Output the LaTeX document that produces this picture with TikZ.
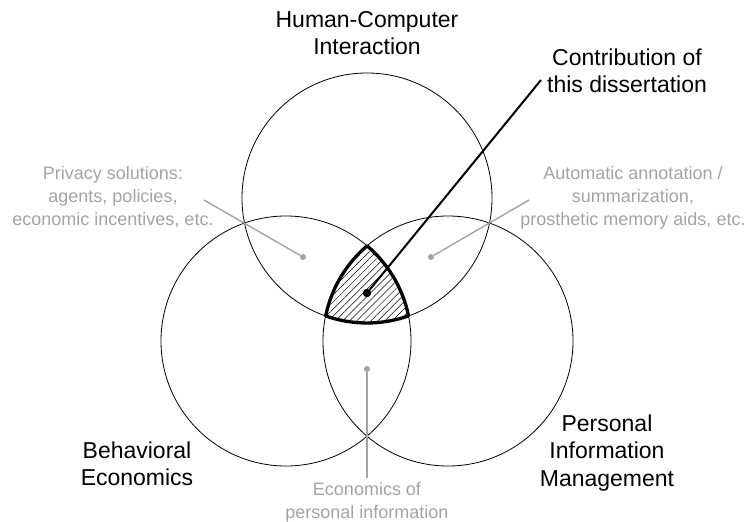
\documentclass[tikz,border=0pt]{standalone}
\usepackage{fontspec}
\setmainfont{Liberation Sans}
\usetikzlibrary{patterns.meta}
\definecolor{notegray}{gray}{0.64}

\begin{document}
\begin{tikzpicture}[x=1pt, y=-1pt,
  area/.style = {draw, circle, line width=0.8pt, minimum size=250pt, inner sep=0pt},
  field/.style = {align=center, font=\fontsize{23}{27.5}\selectfont},
  note/.style = {align=center, text=notegray, font=\fontsize{18}{23}\selectfont},
  main/.style = {draw, circle, fill, inner sep=0pt, minimum size=8pt},
  small/.style = {circle, fill=notegray, inner sep=0pt, minimum size=6pt},
  pin/.style = {draw=notegray, line width=1.4pt}]
  \useasboundingbox (0,0) rectangle (747,522);
  % the three fields
  \node[area] (hci) at (367,198) {};
  \node[area] (be) at (286,341) {};
  \node[area] (pim) at (448,341) {};
  % where all three overlap
  \path[pattern={Lines[angle=45, distance=5pt, line width=0.5pt]}, draw, line width=3.3pt, line join=round]
    (325.5,315.9) arc[start angle=109.4, end angle=70.6, radius=125]
    arc[start angle=-11.6, end angle=-49.6, radius=125]
    arc[start angle=229.6, end angle=191.6, radius=125] -- cycle;
  \node[main] (core) at (367,293) {};
  \coordinate (tip) at (541,80);
  \draw[line width=2pt] (core) -- (tip);
  % pairwise overlaps
  \node[small] (hcibe) at (303,257) {};
  \node[small] (hcipim) at (431,257) {};
  \node[small] (bepim) at (367,369) {};
  \coordinate (hcibeend) at (204,200);
  \coordinate (hcipimend) at (529,200);
  \coordinate (bepimend) at (367,478);
  \draw[pin] (hcibe) -- (hcibeend);
  \draw[pin] (hcipim) -- (hcipimend);
  \draw[pin] (bepim) -- (bepimend);
  % labels
  \node[field] (hcilabel) at (367,33) {Human-Computer\\Interaction};
  \node[field] (contrib) at (627,71) {Contribution of\\this dissertation};
  \node[field] (belabel) at (137,464) {Behavioral\\Economics};
  \node[field] (pimlabel) at (607,453) {Personal\\Information\\Management};
  \node[note] (privacy) at (113,197) {Privacy solutions:\\agents, policies,\\economic incentives, etc.};
  \node[note] (annot) at (633,198) {Automatic annotation /\\summarization,\\prosthetic memory aids, etc.};
  \node[note] (econ) at (367,502) {Economics of\\personal information};
\end{tikzpicture}
\end{document}
